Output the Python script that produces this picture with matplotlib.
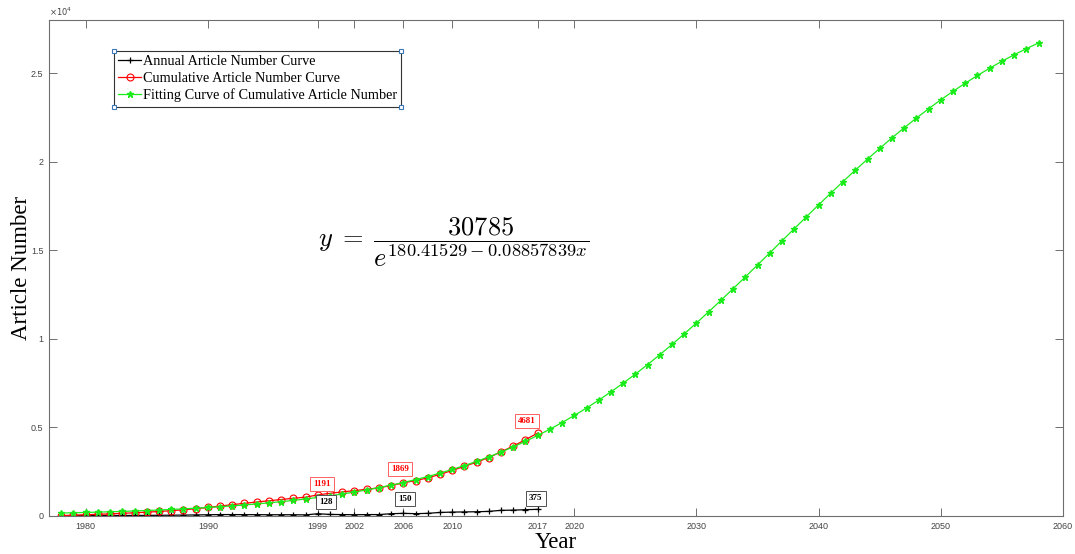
import matplotlib
matplotlib.use("Agg")
import matplotlib.pyplot as plt
from matplotlib.lines import Line2D

# data
years = list(range(1978, 2018))
annual = [20, 25, 25, 25, 25, 30, 30, 35, 40, 45,
          50, 60, 70, 80, 80, 75, 75, 70, 70, 70,
          63, 128, 89, 80, 70, 80, 80, 129, 150, 131,
          150, 200, 220, 230, 240, 260, 320, 330, 356, 375]
cumulative = [20, 45, 70, 95, 120, 150, 180, 215, 255, 300,
              350, 410, 480, 560, 640, 715, 790, 860, 930, 1000,
              1063, 1191, 1280, 1360, 1430, 1510, 1590, 1719, 1869, 2000,
              2150, 2350, 2570, 2800, 3040, 3300, 3620, 3950, 4306, 4681]
fit_years = list(range(1978, 2059))
fit_values = [168, 183, 200, 218, 238, 260, 284, 310, 339, 370,
              404, 440, 480, 524, 572, 624, 680, 742, 808, 881,
              960, 1046, 1139, 1241, 1351, 1470, 1599, 1739, 1890, 2054,
              2229, 2420, 2625, 2845, 3082, 3337, 3610, 3901, 4213, 4546,
              4900, 5276, 5675, 6096, 6540, 7008, 7499, 8013, 8549, 9105,
              9684, 10282, 10897, 11530, 12173, 12832, 13496, 14174, 14851, 15535,
              16215, 16893, 17565, 18229, 18882, 19521, 20146, 20754, 21344, 21914,
              22462, 22989, 23493, 23974, 24433, 24867, 25279, 25669, 26036, 26380,
              26705]
label_years = [1999, 2006, 2017]
xtick_years = [1980, 1990, 1999, 2002, 2006, 2010, 2017, 2020, 2030, 2040, 2050, 2060]
ytick_vals = [0, 5000, 10000, 15000, 20000, 25000]
ytick_labels = ["0", "0.5", "1", "1.5", "2", "2.5"]

serif = "Liberation Serif"
sans = "Liberation Sans"
axcol = "#6e6e6e"
green = "#1aeb1a"

fig = plt.figure(figsize=(10.75, 5.54), dpi=100)
ax = fig.add_axes([0.0456, 0.0686, 0.9432, 0.8953])

ax.plot(years, annual, color="black", lw=0.9, marker="+", ms=5, mew=0.9,
        label="Annual Article Number Curve")
ax.plot(years, cumulative, color="red", lw=0.9, marker="o", ms=5, mfc="none",
        mew=0.8, label="Cumulative Article Number Curve")
ax.plot(fit_years, fit_values, color=green, lw=0.9, marker="*", ms=4.5,
        label="Fitting Curve of Cumulative Article Number")

ax.set_xlim(1977, 2060)
ax.set_ylim(0, 28000)
ax.set_xticks(xtick_years)
ax.set_yticks(ytick_vals)
ax.set_yticklabels(ytick_labels)
ax.tick_params(direction="in", length=6, width=0.7, colors=axcol, labelcolor="#444444",
               labelsize=6.5, top=True, right=True, pad=4)
for lab in ax.get_xticklabels() + ax.get_yticklabels():
    lab.set_family(sans)
for s in ax.spines.values():
    s.set_color(axcol)
    s.set_linewidth(0.8)

ax.text(0.0, 1.004, r"$\times10^{4}$", transform=ax.transAxes, fontsize=6,
        color="#444444", ha="left", va="bottom")

ax.set_xlabel("Year", family=serif, fontsize=16.5, labelpad=1)
ax.set_ylabel("Article Number", family=serif, fontsize=16.5, labelpad=-1)

# data tips
offs_red = [(4, 11), (-3, 14), (-11, 12)]
offs_blk = [(8, 12), (2, 14), (-2, 11)]
for yr, o_r, o_b in zip(label_years, offs_red, offs_blk):
    i = years.index(yr)
    ax.annotate(str(cumulative[i]), (yr, cumulative[i]), xytext=o_r,
                textcoords="offset pixels", ha="center", va="center",
                fontsize=6.5, fontweight="bold", family=serif, color="red",
                bbox=dict(boxstyle="square,pad=0.35", fc="white", ec="#ff6060", lw=0.7))
    ax.annotate(str(annual[i]), (yr, annual[i]), xytext=o_b,
                textcoords="offset pixels", ha="center", va="center",
                fontsize=6.5, fontweight="bold", family=serif, color="black",
                bbox=dict(boxstyle="square,pad=0.35", fc="white", ec="#505050", lw=0.7))

ax.text(0.399, 0.552, r"$y\;=\;\dfrac{30785}{e^{180.41529-0.08857839x}}$",
        transform=ax.transAxes, fontsize=19, ha="center", va="center",
        math_fontfamily="cm")

leg = ax.legend(loc="upper left", bbox_to_anchor=(0.064, 0.9375), borderaxespad=0,
                prop={"family": serif, "size": 10.3}, fancybox=False, framealpha=1,
                edgecolor="#333333", handlelength=1.6, handletextpad=0.1,
                borderpad=0.3, labelspacing=0.25)
leg.get_frame().set_linewidth(0.8)

# selection handles on the legend corners
fig.canvas.draw()
bb = leg.get_window_extent().transformed(fig.transFigure.inverted())
hx = [bb.x0, bb.x1, bb.x0, bb.x1]
hy = [bb.y0, bb.y0, bb.y1, bb.y1]
fig.add_artist(Line2D(hx, hy, transform=fig.transFigure, ls="none", marker="s",
                      ms=3, mfc="white", mec="#3a78b8", mew=0.8))

fig.savefig("out.png", dpi=100)
